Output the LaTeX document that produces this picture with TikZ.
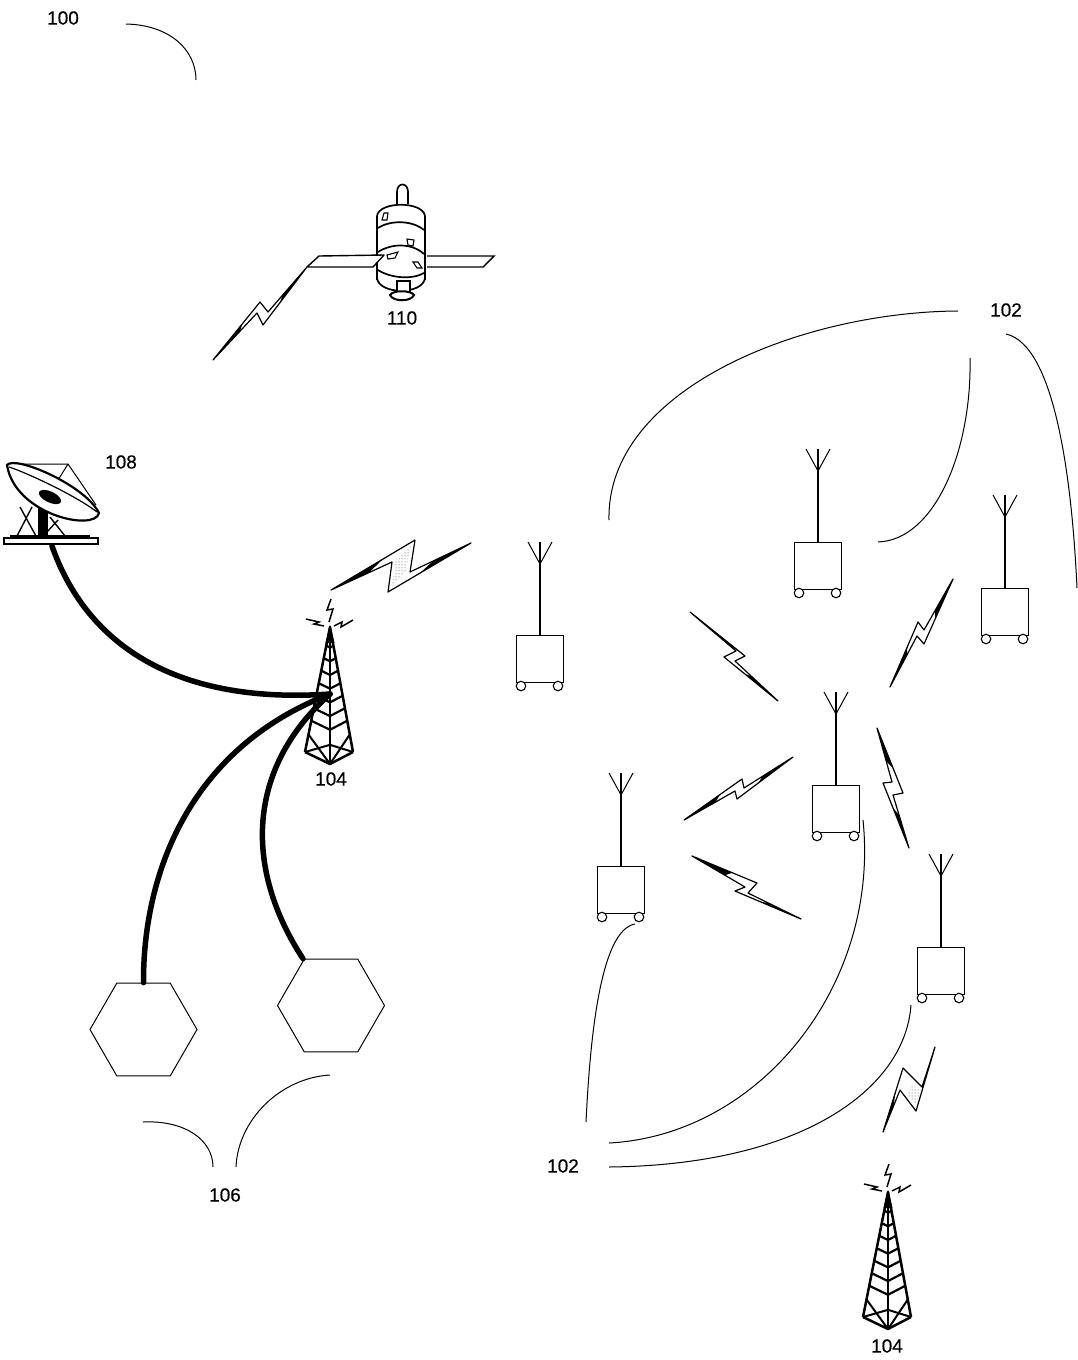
\documentclass[tikz,border=0pt]{standalone}
\usepackage{fontspec}
\setmainfont{Liberation Sans}
\newfontfamily\labfont[FakeBold=0.35]{Liberation Sans}
\usetikzlibrary{shapes.geometric,calc,patterns}
\tikzset{
  x=1pt,y=-1pt,
  lab/.style={font=\labfont\fontsize{19}{21}\selectfont,inner sep=0pt,text=black},
  leader/.style={draw=black,line width=1pt},
  feed/.style={draw=black,line width=5.5pt,line cap=round},
  boltshape/.style={draw=black,line width=1.2pt,fill=white,line join=round},
  boltcore/.style={pattern=dots,pattern color=black!80,draw=none},
  termbox/.style={draw=black,line width=1.3pt,minimum width=47pt,minimum height=47pt,inner sep=0pt,anchor=north,fill=white},
  wheel/.style={draw=black,line width=1.1pt,circle,minimum size=9.5pt,inner sep=0pt,fill=white},
  hexa/.style={draw=black,line width=1pt,regular polygon,regular polygon sides=6,minimum size=107pt,inner sep=0pt},
  sat/.style={draw=black,line width=1.7pt,fill=white},
  mast/.style={draw=black,line width=1.1pt},
}
% terminal: name, centre x, top y of the box
\newcommand{\terminal}[3]{%
  \node[termbox] (#1) at (#2,#3) {};
  \node[wheel] (#1wl) at (#2-19,#3+51) {};
  \node[wheel] (#1wr) at (#2+18,#3+51) {};
  \coordinate (#1f) at (#2,#3-71);
  \draw[mast] (#1.north) -- (#2,#3-93);
  \draw[mast,line width=1pt] (#2-12,#3-93) -- (#1f) -- (#2+12,#3-93);
}
% bolt: tip, corner, notch, tip, corner, notch
\newcommand{\boltz}[6]{%
  \draw[boltshape] (#1) -- (#2) -- (#3) -- (#4) -- (#5) -- (#6) -- cycle;
  \fill (#1) -- ($(#1)!.62!(#2)$) -- ($(#1)!.62!(#6)$) -- cycle;
  \fill (#4) -- ($(#4)!.62!(#3)$) -- ($(#4)!.62!(#5)$) -- cycle;
}
% tower: apex x,y
\newcommand{\towerat}[2]{%
  \begin{scope}[shift={(#1,#2)}]
    \draw[line width=2.5pt,line join=round] (-25,125) -- (0,137) -- (23,125);
    \draw[line width=2.5pt,line join=round] (-25,125) -- (0,0) -- (23,125);
    \draw[line width=2.3pt] (0,0) -- (0,137);
    \fill (0,-2) -- (-4.5,16) -- (4.5,16) -- cycle;
    \foreach \t in {.15,.25,.35,.45,.55,.65,.75}
      \draw[line width=2.2pt] (-25*\t,125*\t) -- (0,137*\t) -- (23*\t,125*\t);
    \draw[line width=2pt] (-25*.86,125*.86) -- (0,137) (23*.86,125*.86) -- (0,137);
    \draw[line width=2pt] (-25,125) -- (0,137*.86) -- (23,125);
    \draw[line width=1.5pt] (-1,-5) -- (3,-18) -- (-3,-17) -- (1,-28);
    \draw[line width=1.5pt] (-6,-1) -- (-16,-3) -- (-11,-5) -- (-24,-8);
    \draw[line width=1.5pt] (4,-1) -- (12,-5) -- (11,0) -- (23,-7);
  \end{scope}}
\begin{document}
\begin{tikzpicture}
\useasboundingbox (0,0) rectangle (1078,1360);
\fill[white] (0,0) rectangle (1078,1360);

% labels
\node[lab] (n100) at (63,18) {100};
\node[lab] (n110) at (402,318) {110};
\node[lab] (n102a) at (1006,310) {102};
\node[lab] (n108) at (121,462) {108};
\node[lab] (n104a) at (331,779) {104};
\node[lab] (n102b) at (563,1166) {102};
\node[lab] (n106) at (225,1195) {106};
\node[lab] (n104b) at (887,1346) {104};

% terminals
\terminal{ta}{540}{635}
\terminal{tb}{818}{542}
\terminal{tc}{1005}{588}
\terminal{td}{836}{785}
\terminal{te}{621}{866}
\terminal{tf}{941}{947}

% leader lines
\coordinate (a1) at (126,24);   \coordinate (a2) at (196,80);
\coordinate (b1) at (958,311);  \coordinate (b2) at (609,520);
\coordinate (c1) at (970,358);  \coordinate (c2) at (878,542);
\coordinate (d1) at (1006,334); \coordinate (d2) at (1077,588);
\coordinate (e1) at (586,1122); \coordinate (e2) at (635,924);
\coordinate (f1) at (609,1143); \coordinate (f2) at (863,820);
\coordinate (g1) at (609,1167); \coordinate (g2) at (911,1005);
\coordinate (h1) at (143,1122); \coordinate (h2) at (213,1167);
\coordinate (i1) at (236,1167); \coordinate (i2) at (330,1075);
\draw[leader] (a1) .. controls (170,25) and (196,50) .. (a2);
\draw[leader] (b1) .. controls (800,312) and (606,390) .. (b2);
\draw[leader] (c1) .. controls (972,450) and (935,540) .. (c2);
\draw[leader] (d1) .. controls (1055,345) and (1072,480) .. (d2);
\draw[leader] (e1) .. controls (590,1040) and (600,930) .. (e2);
\draw[leader] (f1) .. controls (760,1135) and (880,985) .. (f2);
\draw[leader] (g1) .. controls (800,1165) and (905,1090) .. (g2);
\draw[leader] (h1) .. controls (185,1120) and (213,1140) .. (h2);
\draw[leader] (i1) .. controls (238,1120) and (280,1078) .. (i2);

% hexagons
\node[hexa] (hexl) at (143.5,1029.5) {};
\node[hexa] (hexr) at (331,1005.5) {};

% towers
\towerat{330}{627}
\towerat{888}{1192}
\coordinate (towerhub) at (330,694);
\coordinate (dishfoot) at (52,546);

% thick feeds
\draw[feed] (dishfoot) .. controls (85,640) and (170,705) .. (towerhub);
\draw[feed] (hexl.north) .. controls (143,880) and (185,750) .. (towerhub);
\draw[feed] ($(hexr.north)+(-28,0)$) .. controls (245,870) and (245,770) .. (towerhub);

% lightning bolts
\boltz{331,590}{415,540}{410,572}{471,543}{388,592}{392,562}
\fill[boltcore] (395,560) -- (411,546) -- (406,571) -- (392,587) -- cycle;

\boltz{690,612}{745,656}{735,661}{778,701}{724,657}{736,651}
\boltz{890,687}{918,622}{924,630}{953,579}{924,644}{917,636}
\boltz{684,820}{742,779}{744,788}{793,757}{737,799}{735,791}
\boltz{877,728}{903,793}{893,795}{909,848}{883,783}{892,782}
\boltz{692,856}{757,883}{748,893}{801,919}{735,891}{745,887}
\boltz{883,1132}{903,1068}{922,1087}{935,1047}{916,1111}{900,1090}
\fill[boltcore] (911,1086) -- (921,1089) -- (917,1105) -- (907,1096) -- cycle;
\boltz{213,360}{260,302}{268,312}{307,267}{263,325}{257,313}

% satellite
\draw[sat] (397,204) -- (397,192) .. controls (397,182) and (408,182) .. (408,192) -- (408,204);
\draw[sat] (377,280) -- (377,216) .. controls (379,201) and (423,201) .. (425,216) -- (425,280);
\draw[sat] (377,278) .. controls (379,295) and (423,295) .. (425,278);
\draw[line width=1.7pt] (378,228) .. controls (390,220) and (412,220) .. (424,230);
\draw[line width=1.7pt] (378,252) .. controls (392,243) and (412,243) .. (424,254);
\draw[line width=1.7pt] (378,270) .. controls (390,278) and (412,280) .. (424,273);
\draw[sat,line width=1.4pt,line join=round] (319,256) -- (384,255) -- (373,267) -- (307,267) -- cycle;
\draw[sat,line width=1.4pt] (427,256) -- (494,256) -- (483,267) -- (427,267);
\draw[sat,line width=1.1pt] (382,220) -- (384,213) -- (388,213) -- (387,220) -- cycle;
\draw[sat,line width=1.1pt] (407,239) -- (414,240) -- (413,246) -- (408,245) -- cycle;
\draw[sat,line width=1.1pt] (387,255) -- (398,252) -- (395,258) -- (388,259) -- cycle;
\draw[sat,line width=1.1pt] (413,262) -- (418,262) -- (422,268) -- (417,268) -- cycle;
\draw[sat] (397,281) -- (410,281) -- (410,294) -- (397,294) -- cycle;
\draw[sat,line width=2pt] (390,295) .. controls (393,290) and (411,290) .. (414,295) .. controls (411,302) and (393,302) .. (390,295) -- cycle;

% earth station
\draw[line width=1pt] (12,464) -- (68,464) -- (96,505);
\draw[line width=1pt] (68,464) -- (50,493);
\draw[line width=1.4pt] (17,536) -- (32,507) (20,507) -- (36,536);
\draw[line width=1.4pt] (50,517) -- (65,536) (47,532) -- (58,520);
\fill (38,503) rectangle (48,537);
\draw[line width=2.2pt,fill=white] (7,465) .. controls (15,455) and (85,485) .. (99,513)
   .. controls (95,532) and (15,515) .. (7,465) -- cycle;
\draw[line width=1.2pt] (9,467) .. controls (25,472) and (75,495) .. (97,512);
\fill[rotate around={-25:(50,497)}] (50,497) ellipse[x radius=12,y radius=5.5];
\draw[line width=1.6pt,fill=white] (4,538) rectangle (98,544);
\draw[line width=1.2pt] (10,536) -- (90,536);
\end{tikzpicture}
\end{document}
